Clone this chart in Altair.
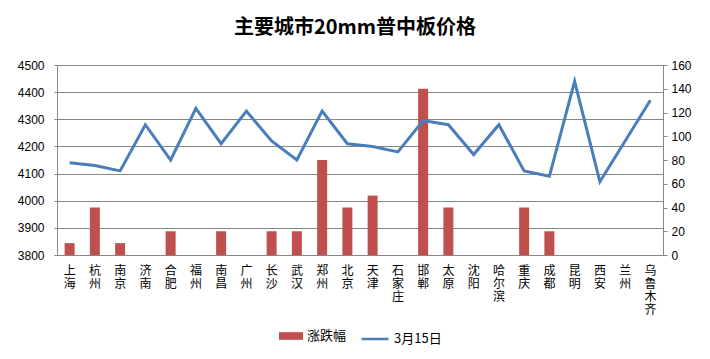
import altair as alt
import pandas as pd

cities = ["上海", "杭州", "南京", "济南", "合肥", "福州", "南昌", "广州", "长沙", "武汉",
          "郑州", "北京", "天津", "石家庄", "邯郸", "太原", "沈阳", "哈尔滨", "重庆", "成都",
          "昆明", "西安", "兰州", "乌鲁木齐"]
price = [4140, 4130, 4110, 4280, 4150, 4340, 4210, 4330, 4220, 4150,
         4330, 4210, 4200, 4180, 4295, 4280, 4170, 4280, 4110, 4090,
         4440, 4070, 4220, 4370]
change = [10, 40, 10, 0, 20, 0, 20, 0, 20, 20,
          80, 40, 50, 0, 140, 40, 0, 0, 40, 20,
          0, 0, 0, 0]
bar_series = "涨跌幅"
line_series = "3月15日"

df = pd.DataFrame({"city": cities, "price": price, "change": change,
                   "bs": bar_series, "ls": line_series})

CJK = "Noto Sans CJK SC"
NUM = "Liberation Sans"
GRID = "#868686"

x = alt.X("city:N", sort=None,
          scale=alt.Scale(paddingInner=0, paddingOuter=0),
          axis=alt.Axis(title=None, labelAngle=0, labelExpr="split(datum.label, '')",
                        labelFont=CJK, labelFontSize=12, labelLineHeight=13,
                        labelPadding=10, labelBaseline="top", ticks=False,
                        labelOverlap=False, labelBound=False,
                        domainColor=GRID, labelColor="#000"))

base = alt.Chart(df)

bars = base.mark_bar(size=10).encode(
    x=x,
    y=alt.Y("change:Q",
            scale=alt.Scale(domain=[0, 160], nice=False, zero=True),
            axis=alt.Axis(orient="right", title=None, values=list(range(0, 161, 20)),
                          format="d", grid=False, domainColor=GRID, tickColor=GRID, tickSize=4,
                          labelFont=NUM, labelFontSize=12, labelColor="#000",
                          labelPadding=4)),
    fill=alt.Fill("bs:N",
                  scale=alt.Scale(domain=[bar_series], range=["#C0504D"]),
                  legend=alt.Legend(title=None, orient="none", legendX=222, legendY=259,
                                    symbolType="M-1,-0.32H1V0.32H-1Z", symbolSize=576,
                                    symbolStrokeWidth=0, symbolOpacity=1,
                                    labelFont=CJK, labelFontSize=13, labelColor="#000",
                                    labelOffset=4)),
)

line = base.mark_line(strokeWidth=3).encode(
    x=x,
    y=alt.Y("price:Q",
            scale=alt.Scale(domain=[3800, 4500], nice=False, zero=False),
            axis=alt.Axis(orient="left", title=None, values=list(range(3800, 4501, 100)),
                          format="d", grid=True, gridColor=GRID, gridWidth=1, gridOpacity=1,
                          domainColor=GRID, tickColor=GRID, tickSize=3,
                          labelFont=NUM, labelFontSize=12, labelColor="#000",
                          labelPadding=10)),
    stroke=alt.Stroke("ls:N",
                      scale=alt.Scale(domain=[line_series], range=["#4A7EBB"]),
                      legend=alt.Legend(title=None, orient="none", legendX=303, legendY=259,
                                        symbolType="stroke", symbolSize=729,
                                        symbolStrokeWidth=2.5,
                                        labelFont=CJK, labelFontSize=13, labelColor="#000",
                                        labelOffset=4)),
)

chart = alt.layer(bars, line).resolve_scale(
    y="independent", fill="independent", stroke="independent"
).properties(
    width=606, height=190,
    padding={"left": 49, "top": 57, "right": 36, "bottom": 92},
    autosize=alt.AutoSizeParams(type="none"),
    title=alt.Title("主要城市20mm普中板价格", font=CJK, fontSize=20, fontWeight="bold",
                    color="#000", anchor="middle", offset=21, dx=-5),
).configure_view(stroke=None).configure(background="white")

chart.save("out.html", embed_options={"renderer": "svg", "actions": False})
